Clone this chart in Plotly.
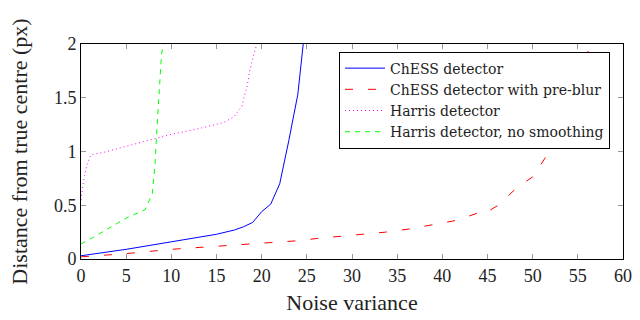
import plotly.graph_objects as go

chess_x = [0, 5, 10, 15, 17, 18, 19, 20, 21, 22, 23, 24, 24.6, 25]
chess_y = [0.03, 0.09, 0.16, 0.23, 0.27, 0.30, 0.34, 0.44, 0.51, 0.70, 1.10, 1.53, 2.0, 2.3]

blur_x = [0, 5, 10, 15, 20, 24, 26, 28.5, 31, 33.7, 36.4, 39, 41.6, 44, 44.6, 46.2, 48.2, 50.1, 51.9, 53, 54, 55, 56.4, 57]
blur_y = [0.02, 0.05, 0.09, 0.12, 0.15, 0.17, 0.19, 0.21, 0.23, 0.25, 0.28, 0.32, 0.36, 0.43, 0.42, 0.50, 0.66, 0.77, 1.01, 1.2, 1.42, 1.66, 2.0, 2.1]

harris_x = [0, 0.25, 0.6, 1.1, 2.4, 5, 7.9, 10, 12.9, 15.8, 16.9, 17.8, 18.4, 18.7, 19.1, 19.4, 19.6]
harris_y = [0.55, 0.71, 0.86, 0.97, 0.99, 1.05, 1.11, 1.16, 1.21, 1.27, 1.32, 1.42, 1.61, 1.76, 1.89, 1.98, 2.1]

nosm_x = [0, 1.3, 5, 7.1, 7.9, 8.2, 8.4, 8.6, 8.9, 9.1, 9.2]
nosm_y = [0.14, 0.20, 0.38, 0.46, 0.61, 0.89, 1.2, 1.51, 1.89, 2.0, 2.1]

x_ticks = list(range(0, 61, 5))
y_ticks = [0, 0.5, 1, 1.5, 2]
y_tick_text = ["0", "0.5", "1", "1.5", "2"]

FONT = "Liberation Serif, serif"
LFONT = "DejaVu Serif, serif"

fig = go.Figure()
fig.add_trace(go.Scatter(x=chess_x, y=chess_y, mode="lines", name="ChESS detector",
                         line=dict(color="#0000ff", width=1)))
fig.add_trace(go.Scatter(x=blur_x, y=blur_y, mode="lines", name="ChESS detector with pre-blur",
                         line=dict(color="#ff0000", width=1, dash="8px,15px")))
fig.add_trace(go.Scatter(x=harris_x, y=harris_y, mode="lines", name="Harris detector",
                         line=dict(color="#ff00ff", width=1, dash="1px,3px")))
fig.add_trace(go.Scatter(x=nosm_x, y=nosm_y, mode="lines", name="Harris detector, no smoothing",
                         line=dict(color="#00ff00", width=1, dash="5px,5px")))

axis_common = dict(showgrid=False, zeroline=False, showline=True, linecolor="black", linewidth=1,
                   mirror="ticks", ticks="inside", ticklen=5, tickcolor="#999999",
                   ticklabeloverflow="allow",
                   tickfont=dict(family=FONT, size=18, color="#222"))

fig.update_layout(
    width=640, height=320,
    margin=dict(l=81, r=8, t=44, b=61),
    plot_bgcolor="white", paper_bgcolor="white",
    font=dict(family=FONT, color="#222"),
    xaxis=dict(range=[0, 60], tickvals=x_ticks, title=dict(text="Noise variance", font=dict(family=FONT, size=22), standoff=10), **axis_common),
    yaxis=dict(range=[0, 2], tickvals=y_ticks, ticktext=y_tick_text, title=dict(text="Distance from true centre (px)", font=dict(family=FONT, size=22), standoff=20), **axis_common),
    legend=dict(x=0.476, y=0.965, xanchor="left", yanchor="top", bgcolor="white",
                bordercolor="black", borderwidth=1, font=dict(family=LFONT, size=14, color="#222"),
                tracegroupgap=0, itemwidth=40),
    showlegend=True,
)

fig.write_html("out.html")
